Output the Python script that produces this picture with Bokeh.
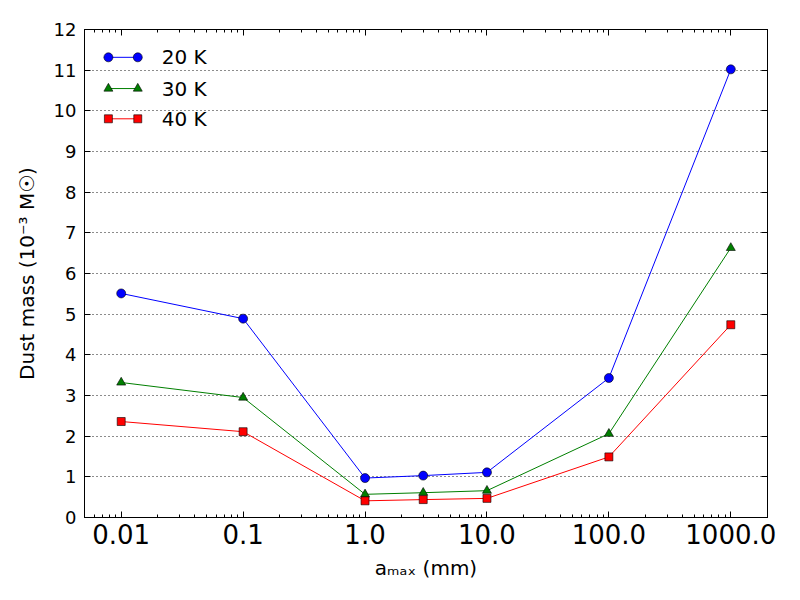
import numpy as np
from bokeh.plotting import figure
from bokeh.models import (LogAxis, LinearAxis, FixedTicker, CustomJSTickFormatter,
                          ColumnDataSource, Range1d)
from bokeh.core.properties import value
from bokeh.embed import file_html
from bokeh.resources import INLINE

# ---- data ----
a_max = [0.01, 0.1, 1.0, 3.0, 10.0, 100.0, 1000.0]
mass_20K = [5.51, 4.89, 0.97, 1.03, 1.11, 3.43, 11.02]
mass_30K = [3.32, 2.95, 0.57, 0.61, 0.66, 2.06, 6.63]
mass_40K = [2.36, 2.11, 0.41, 0.44, 0.47, 1.49, 4.74]
series_labels = ["20 K", "30 K", "40 K"]
x_major = [0.01, 0.1, 1.0, 10.0, 100.0, 1000.0]
y_major = list(range(0, 13))

X_LO, X_HI = 0.005, 2000.0
Y_LO, Y_HI = 0.0, 12.0
FONT = "DejaVu Sans"

W, H = 784, 584
p = figure(width=W, height=H, output_backend="svg", toolbar_location=None,
           x_axis_type="log", x_range=Range1d(X_LO, X_HI), y_range=Range1d(Y_LO, Y_HI),
           min_border_left=84, min_border_right=17, min_border_top=29, min_border_bottom=67)
p.background_fill_color = "white"
p.border_fill_color = "white"
p.outline_line_color = "black"
p.outline_line_width = 1

minor = []
for d in range(-3, 4):
    for k in range(2, 10):
        v = k * 10.0 ** d
        if X_LO <= v <= X_HI:
            minor.append(v)
xticker = FixedTicker(ticks=x_major, minor_ticks=minor)
yticker = FixedTicker(ticks=y_major, minor_ticks=[])
fmt = CustomJSTickFormatter(code="return tick < 0.5 ? String(Number(tick.toPrecision(3))) : tick.toFixed(1);")
blank = CustomJSTickFormatter(code="return '';")

def style(ax):
    ax.axis_line_color = "black"
    ax.major_tick_line_color = "black"
    ax.minor_tick_line_color = "black"
    ax.major_tick_in = 6
    ax.major_tick_out = 0
    ax.minor_tick_in = 3
    ax.minor_tick_out = 0
    ax.major_label_text_font = FONT
    ax.major_label_text_color = "black"
    ax.axis_label_text_font = FONT
    ax.axis_label_text_font_style = "normal"
    ax.axis_label_text_color = "black"

xa = p.xaxis[0]
xa.ticker = xticker
xa.formatter = fmt
style(xa)
xa.major_label_text_font_size = "26px"
xa.major_label_standoff = 6
xa.axis_label = "aₘₐₓ (mm)"
xa.axis_label_text_font_size = "20px"
xa.axis_label_standoff = 9

ya = p.yaxis[0]
ya.ticker = yticker
style(ya)
ya.minor_tick_in = 0
ya.major_label_text_font_size = "18px"
ya.major_label_standoff = 8
ya.axis_label = "Dust mass (10⁻³ M☉)"
ya.axis_label_text_font_size = "20px"
ya.axis_label_standoff = 12

top = LogAxis(ticker=xticker, formatter=blank)
style(top)
top.major_label_standoff = 0
top.major_label_text_font_size = "1px"
p.add_layout(top, "above")
right = LinearAxis(ticker=yticker, formatter=blank)
style(right)
right.minor_tick_in = 0
right.major_label_standoff = 0
right.major_label_text_font_size = "1px"
p.add_layout(right, "right")

p.xgrid.visible = False
p.ygrid.ticker = yticker
p.ygrid.grid_line_color = "black"
p.ygrid.grid_line_dash = "1 3"
p.ygrid.grid_line_width = 1
p.ygrid.grid_line_alpha = 0.9

colors = ["#0000ff", "#007f00", "#ff0000"]
markers = ["circle", "triangle", "square"]
sizes = [9, 9, 8]
series = [mass_20K, mass_30K, mass_40K]

for vals, c, m, s in zip(series, colors, markers, sizes):
    src = ColumnDataSource(dict(x=a_max, y=vals))
    p.line("x", "y", source=src, line_color=c, line_width=1)
    p.scatter("x", "y", source=src, marker=m, size=s, fill_color=c,
              line_color="black", line_width=0.6)

# ---- legend (matplotlib style, two markers per entry, no frame) ----
lx0, lx1 = np.log10(X_LO), np.log10(X_HI)
def fx(f):
    return 10 ** (lx0 + f * (lx1 - lx0))
def fy(f):
    return Y_HI - f * (Y_HI - Y_LO)

leg_rows = [0.057, 0.121, 0.183]
for lab, c, m, s, r in zip(series_labels, colors, markers, sizes, leg_rows):
    xs = [fx(0.035), fx(0.078)]
    ys = [fy(r), fy(r)]
    p.line(xs, ys, line_color=c, line_width=1)
    p.scatter(xs, ys, marker=m, size=s, fill_color=c, line_color="black", line_width=0.6)
    p.text(x=[fx(0.113)], y=[fy(r)], text=[lab], text_font=value(FONT),
           text_font_size="20px", text_baseline="middle", text_align="left",
           text_color="black")

open("out.html", "w").write(file_html(p, INLINE))
